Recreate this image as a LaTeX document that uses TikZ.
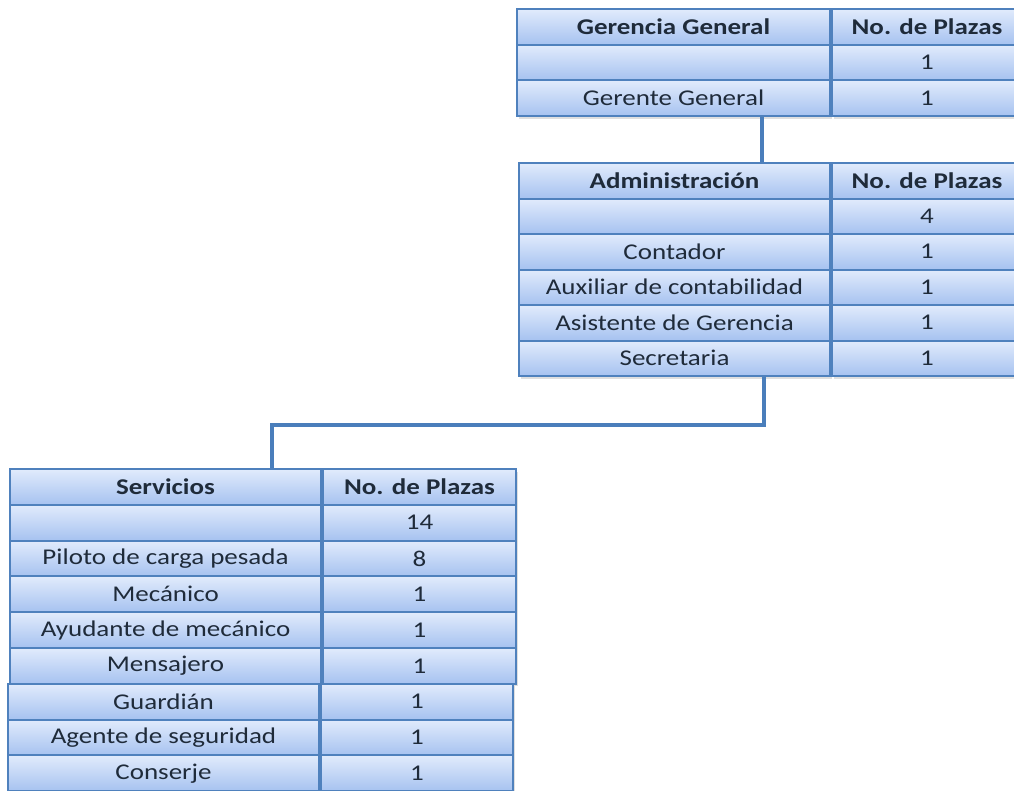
\documentclass[tikz,border=0pt]{standalone}
\usepackage{fontspec}
\setmainfont{Carlito}[FakeStretch=1.2]
\usetikzlibrary{shadows}
\definecolor{cellborder}{HTML}{4F81BD}
\definecolor{celltop}{HTML}{E1EBFC}
\definecolor{cellbot}{HTML}{A6C2F0}
\definecolor{celltext}{HTML}{1F2B3A}
\definecolor{conncol}{HTML}{4A7EBB}
\tikzset{
  cell/.style={draw=cellborder, line width=2pt, top color=celltop, bottom color=cellbot,
    anchor=north west, inner sep=0pt, text=celltext,
    font=\fontsize{22.5}{25}\selectfont,
    drop shadow={shadow xshift=1.5pt, shadow yshift=-2.5pt, opacity=0.25}},
  head/.style={font=\fontsize{22.5}{25}\selectfont\bfseries},
  conn/.style={draw=conncol, line width=4pt, line join=miter}
}
% name, x, y, w1, w2, h, left, right
\newcommand\trow[8]{%
  \node[cell, minimum width=#4pt, minimum height=#6pt] (#1a) at (#2pt,-#3pt) {#7};
  \node[cell, minimum width=#5pt, minimum height=#6pt] (#1b) at (#1a.north east) {#8};}
\newcommand\hrow[8]{%
  \node[cell, head, minimum width=#4pt, minimum height=#6pt] (#1a) at (#2pt,-#3pt) {#7};
  \node[cell, head, minimum width=#5pt, minimum height=#6pt] (#1b) at (#1a.north east) {#8};}
\begin{document}
\begin{tikzpicture}
\useasboundingbox[fill=white] (0,0) rectangle (1014pt,-790pt);
% Gerencia General
\hrow{ga}{516}{8}{313}{190}{35.7}{Gerencia General}{No. de Plazas}
\trow{gb}{516}{43.7}{313}{190}{35.7}{}{1}
\trow{gc}{516}{79.4}{313}{190}{35.7}{Gerente General}{1}
% Administracion
\hrow{aa}{518}{162}{311}{190}{35.5}{Administración}{No. de Plazas}
\trow{ab}{518}{197.5}{311}{190}{35.5}{}{4}
\trow{ac}{518}{233}{311}{190}{35.5}{Contador}{1}
\trow{ad}{518}{268.5}{311}{190}{35.5}{Auxiliar de contabilidad}{1}
\trow{ae}{518}{304}{311}{190}{35.5}{Asistente de Gerencia}{1}
\trow{af}{518}{339.5}{311}{190}{35.5}{Secretaria}{1}
% Servicios
\hrow{sa}{9}{468}{311}{193}{35.8}{Servicios}{No. de Plazas}
\trow{sb}{9}{503.8}{311}{193}{35.8}{}{14}
\trow{sc}{9}{539.6}{311}{193}{35.8}{Piloto de carga pesada}{8}
\trow{sd}{9}{575.4}{311}{193}{35.8}{Mecánico}{1}
\trow{se}{9}{611.2}{311}{193}{35.8}{Ayudante de mecánico}{1}
\trow{sf}{9}{647}{311}{193}{35.8}{Mensajero}{1}
\trow{sg}{7}{682.8}{311}{192}{35.8}{Guardián}{1}
\trow{sh}{7}{718.6}{311}{192}{35.8}{Agente de seguridad}{1}
\trow{si}{7}{754.4}{311}{192}{35.8}{Conserje}{1}
% connectors
\draw[conn] ([xshift=246pt]gca.south west) -- ([xshift=244pt]aaa.north west);
\draw[conn] ([xshift=246pt]afa.south west) -- ++(0,-48pt) -| ([xshift=263pt]saa.north west);
\end{tikzpicture}
\end{document}
